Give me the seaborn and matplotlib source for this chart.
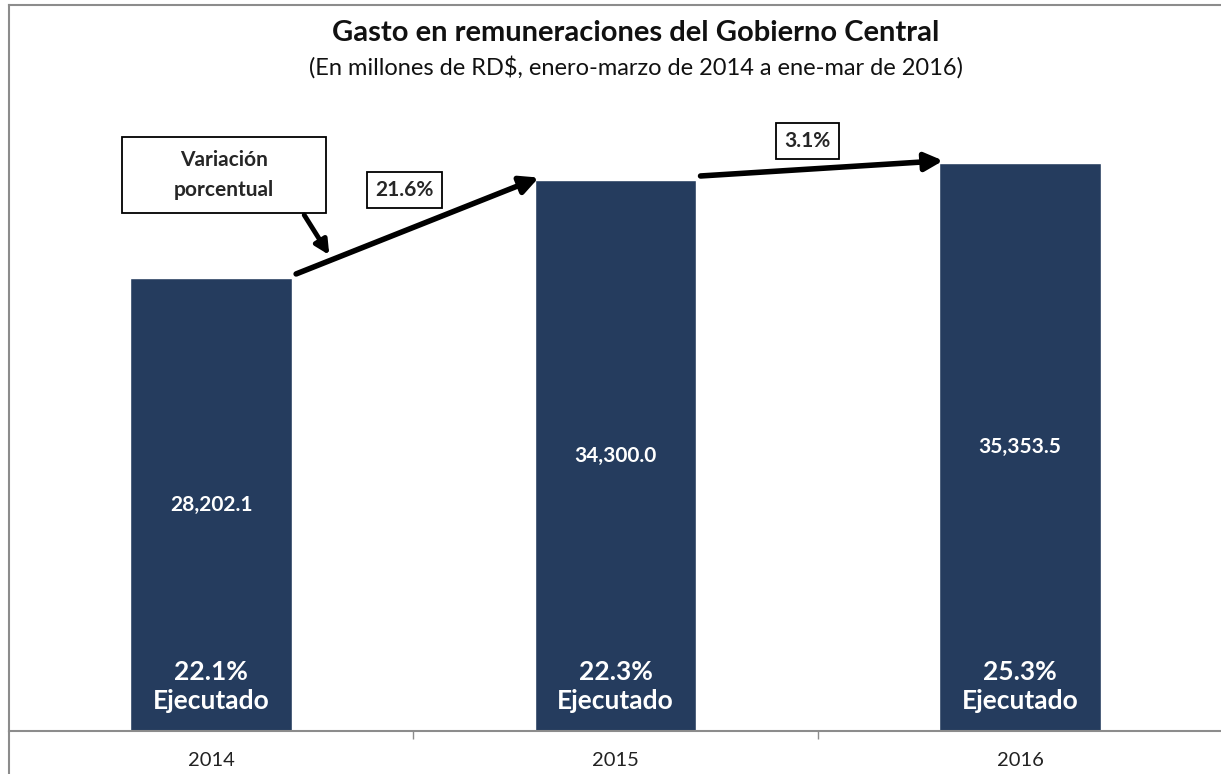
"""Gasto en remuneraciones del Gobierno Central, ene-mar 2014-2016."""
import matplotlib
matplotlib.use("Agg")
import matplotlib.pyplot as plt
import pandas as pd
import seaborn as sns
from matplotlib.lines import Line2D
from matplotlib.patches import Rectangle

years = ["2014", "2015", "2016"]
gasto = [28202.1, 34300.0, 35353.5]
ejecutado = ["22.1%", "22.3%", "25.3%"]
variacion = ["21.6%", "3.1%"]

BAR = "#253C5E"
FONT = ["Lato", "DejaVu Sans"]

sns.set_theme(style="white")
plt.rcParams["font.family"] = FONT

df = pd.DataFrame({"year": years, "gasto": gasto})

W, H = 1221, 774
fig = plt.figure(figsize=(W / 100, H / 100), dpi=100)
ax = fig.add_axes([9 / W, (H - 731) / H, 1 - 9 / W + 0.001, (731 - 5) / H])

sns.barplot(data=df, x="year", y="gasto", color=BAR, width=0.4,
            saturation=1, ax=ax)
ax.set_ylim(0, 726 * 62.25)
ax.set_xlim(-0.5, 2.5)

# frame
for side in ["left", "top", "bottom"]:
    ax.spines[side].set_color("#8c8c8c")
    ax.spines[side].set_linewidth(1.5)
ax.spines["right"].set_visible(False)
fig.add_artist(Line2D([9 / W, 9 / W], [0, (H - 731) / H],
                      color="#8c8c8c", lw=1.5, transform=fig.transFigure))

ax.set_xlabel("")
ax.set_ylabel("")
ax.set_yticks([])
ax.set_xticks([0.5, 1.5], minor=True)
ax.tick_params(axis="x", which="major", length=0, pad=15,
               labelsize=14.5, labelcolor="#222222")
ax.tick_params(axis="x", which="minor", length=6, width=1, color="#8c8c8c",
               bottom=True, direction="out")

# values and execution labels
for i, v in enumerate(gasto):
    ax.text(i, v / 2, f"{v:,.1f}", ha="center", va="center", color="white",
            fontsize=15, fontweight="bold")
    ax.text(i, 1150, f"{ejecutado[i]}\nEjecutado", ha="center", va="bottom",
            color="white", fontsize=19, fontweight="bold", linespacing=1.25)

# arrows between bars
arrow = dict(arrowstyle="-|>,head_length=0.9,head_width=0.45", color="black",
             lw=4, shrinkA=0, shrinkB=0)
for i in range(len(gasto) - 1):
    ax.annotate("", xy=(i + 0.8 + 0.01, gasto[i + 1] + 150),
                xytext=(i + 0.2 + 0.01, gasto[i] + 250), arrowprops=arrow)

box = dict(boxstyle="square,pad=0.4", fc="white", ec="black", lw=1.3)
ax.text(0.478, 33677, variacion[0], ha="center", va="center", fontsize=15,
        fontweight="bold", bbox=box)
ax.text(1.475, 36728, variacion[1], ha="center", va="center", fontsize=15,
        fontweight="bold", bbox=box)

ax.add_patch(Rectangle((-0.22, 32245), 0.505, 4731, fc="white", ec="black",
                       lw=1.3, zorder=3))
ax.text(0.032, 34610, "Variación\nporcentual", ha="center", va="center",
        fontsize=15, fontweight="bold", linespacing=1.6, zorder=4)
ax.annotate("", xy=(0.292, 29631), xytext=(0.23, 32121),
            arrowprops=dict(arrowstyle="-|>,head_length=0.7,head_width=0.35",
                            color="black", lw=3.5, shrinkA=0, shrinkB=0))

fig.text(0.521, 1 - 33 / H, "Gasto en remuneraciones del Gobierno Central",
         ha="center", va="center", fontsize=21, fontweight="bold", color="#111111")
fig.text(0.521, 1 - 67 / H,
         "(En millones de RD$, enero-marzo de 2014 a ene-mar de 2016)",
         ha="center", va="center", fontsize=17, color="#111111")

fig.savefig("out.png", dpi=100, facecolor="white")
